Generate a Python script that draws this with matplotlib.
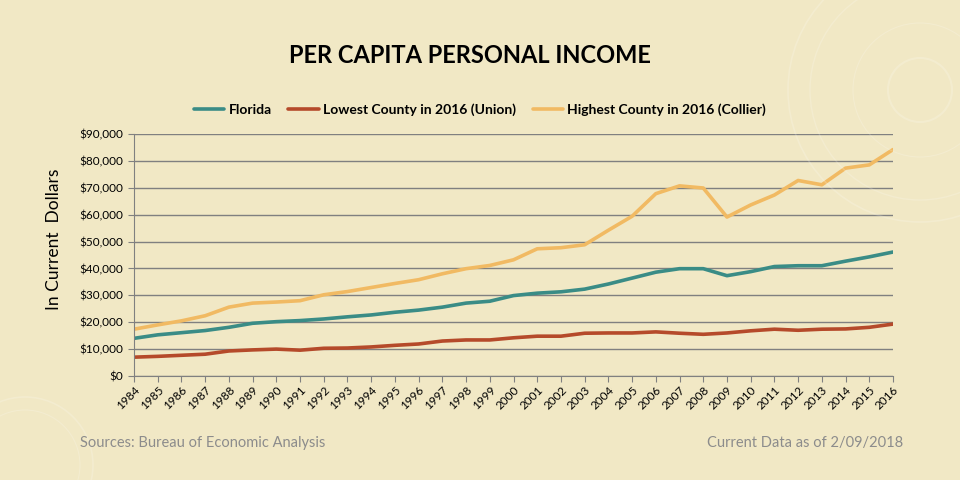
import matplotlib
matplotlib.use("Agg")
import matplotlib.pyplot as plt
from matplotlib.patches import Ellipse
from matplotlib.ticker import FuncFormatter, MultipleLocator

BG = "#F1E8C5"
TEAL = "#3A8C86"
RUST = "#B54A2A"
GOLD = "#F1BA63"
GRID = "#808080"

years = list(range(1984, 2017))

florida = [14000, 15300, 16100, 16900, 18100, 19600, 20200, 20600, 21200, 22000,
           22700, 23700, 24500, 25600, 27100, 27800, 29900, 30800, 31300, 32300,
           34200, 36400, 38600, 39900, 39900, 37300, 38800, 40700, 41000, 41000,
           42700, 44300, 46100]
union = [7000, 7300, 7700, 8100, 9300, 9700, 10000, 9600, 10300, 10400,
         10800, 11400, 11900, 13000, 13400, 13400, 14200, 14800, 14800, 15900,
         16000, 16000, 16400, 15900, 15500, 16000, 16800, 17400, 17000, 17400,
         17500, 18100, 19300]
collier = [17400, 19000, 20500, 22400, 25600, 27100, 27500, 28000, 30200, 31400,
           32900, 34400, 35800, 38000, 39900, 41100, 43200, 47300, 47700, 48800,
           54200, 59400, 67800, 70700, 69900, 59100, 63600, 67300, 72700, 71100,
           77300, 78500, 84200]

plt.rcParams["font.family"] = ["Lato", "DejaVu Sans"]

fig = plt.figure(figsize=(9.6, 4.8), dpi=100, facecolor=BG)

# faint decorative rings of the slide background (centre px, radius px)
rings = [(920, 90, 132, 1.2), (920, 90, 110, 1.0), (920, 90, 67, 0.8), (920, 90, 32, 1.5),
         (25, 465, 68, 1.2), (25, 465, 55, 0.8)]
for cx, cy, r, lw in rings:
    fig.patches.append(Ellipse((cx / 960, 1 - cy / 480), 2 * r / 960, 2 * r / 480,
                               transform=fig.transFigure, fill=False,
                               edgecolor="white", alpha=0.18, lw=lw, zorder=0))

ax = fig.add_axes([0.1396, 0.2167, 0.7906, 0.5042])
ax.patch.set_alpha(0)

ax.plot(years, florida, color=TEAL, lw=2.6, label="Florida", solid_capstyle="round")
ax.plot(years, union, color=RUST, lw=2.6, label="Lowest County in 2016 (Union)", solid_capstyle="round")
ax.plot(years, collier, color=GOLD, lw=2.6, label="Highest County in 2016 (Collier)", solid_capstyle="round")

ax.set_xlim(1984, 2016)
ax.set_ylim(0, 90000)
ax.yaxis.set_major_locator(MultipleLocator(10000))
ax.yaxis.set_major_formatter(FuncFormatter(lambda v, p: f"${v:,.0f}"))
ax.set_xticks(years)
ax.set_xticklabels([str(y) for y in years], rotation=45, ha="right", rotation_mode="anchor")
ax.grid(axis="y", color=GRID, lw=1)
ax.set_axisbelow(True)
for s in ["top", "right"]:
    ax.spines[s].set_visible(False)
for s in ["left", "bottom"]:
    ax.spines[s].set_color(GRID)
ax.tick_params(axis="both", colors=GRID, labelcolor="black", labelsize=8.5, length=4)
ax.tick_params(axis="x", pad=2)

ax.set_ylabel("In Current  Dollars", fontsize=12.5)
ax.yaxis.set_label_coords(-0.095, 0.566)

fig.text(0.49, 0.885, "PER CAPITA PERSONAL INCOME", ha="center", va="center",
         fontsize=17, fontweight="bold")

fig.legend(loc="center", bbox_to_anchor=(0.5, 0.771), ncol=3, frameon=False,
           prop={"weight": "bold", "size": 10}, handlelength=2.2,
           handletextpad=0.3, columnspacing=1.2)

fig.text(0.083, 0.077, "Sources: Bureau of Economic Analysis", color="#8C8C8C",
         fontsize=10.5, va="center")
fig.text(0.941, 0.077, "Current Data as of 2/09/2018", color="#8C8C8C",
         fontsize=10.5, va="center", ha="right")

fig.savefig("out.png", dpi=100, facecolor=BG)
